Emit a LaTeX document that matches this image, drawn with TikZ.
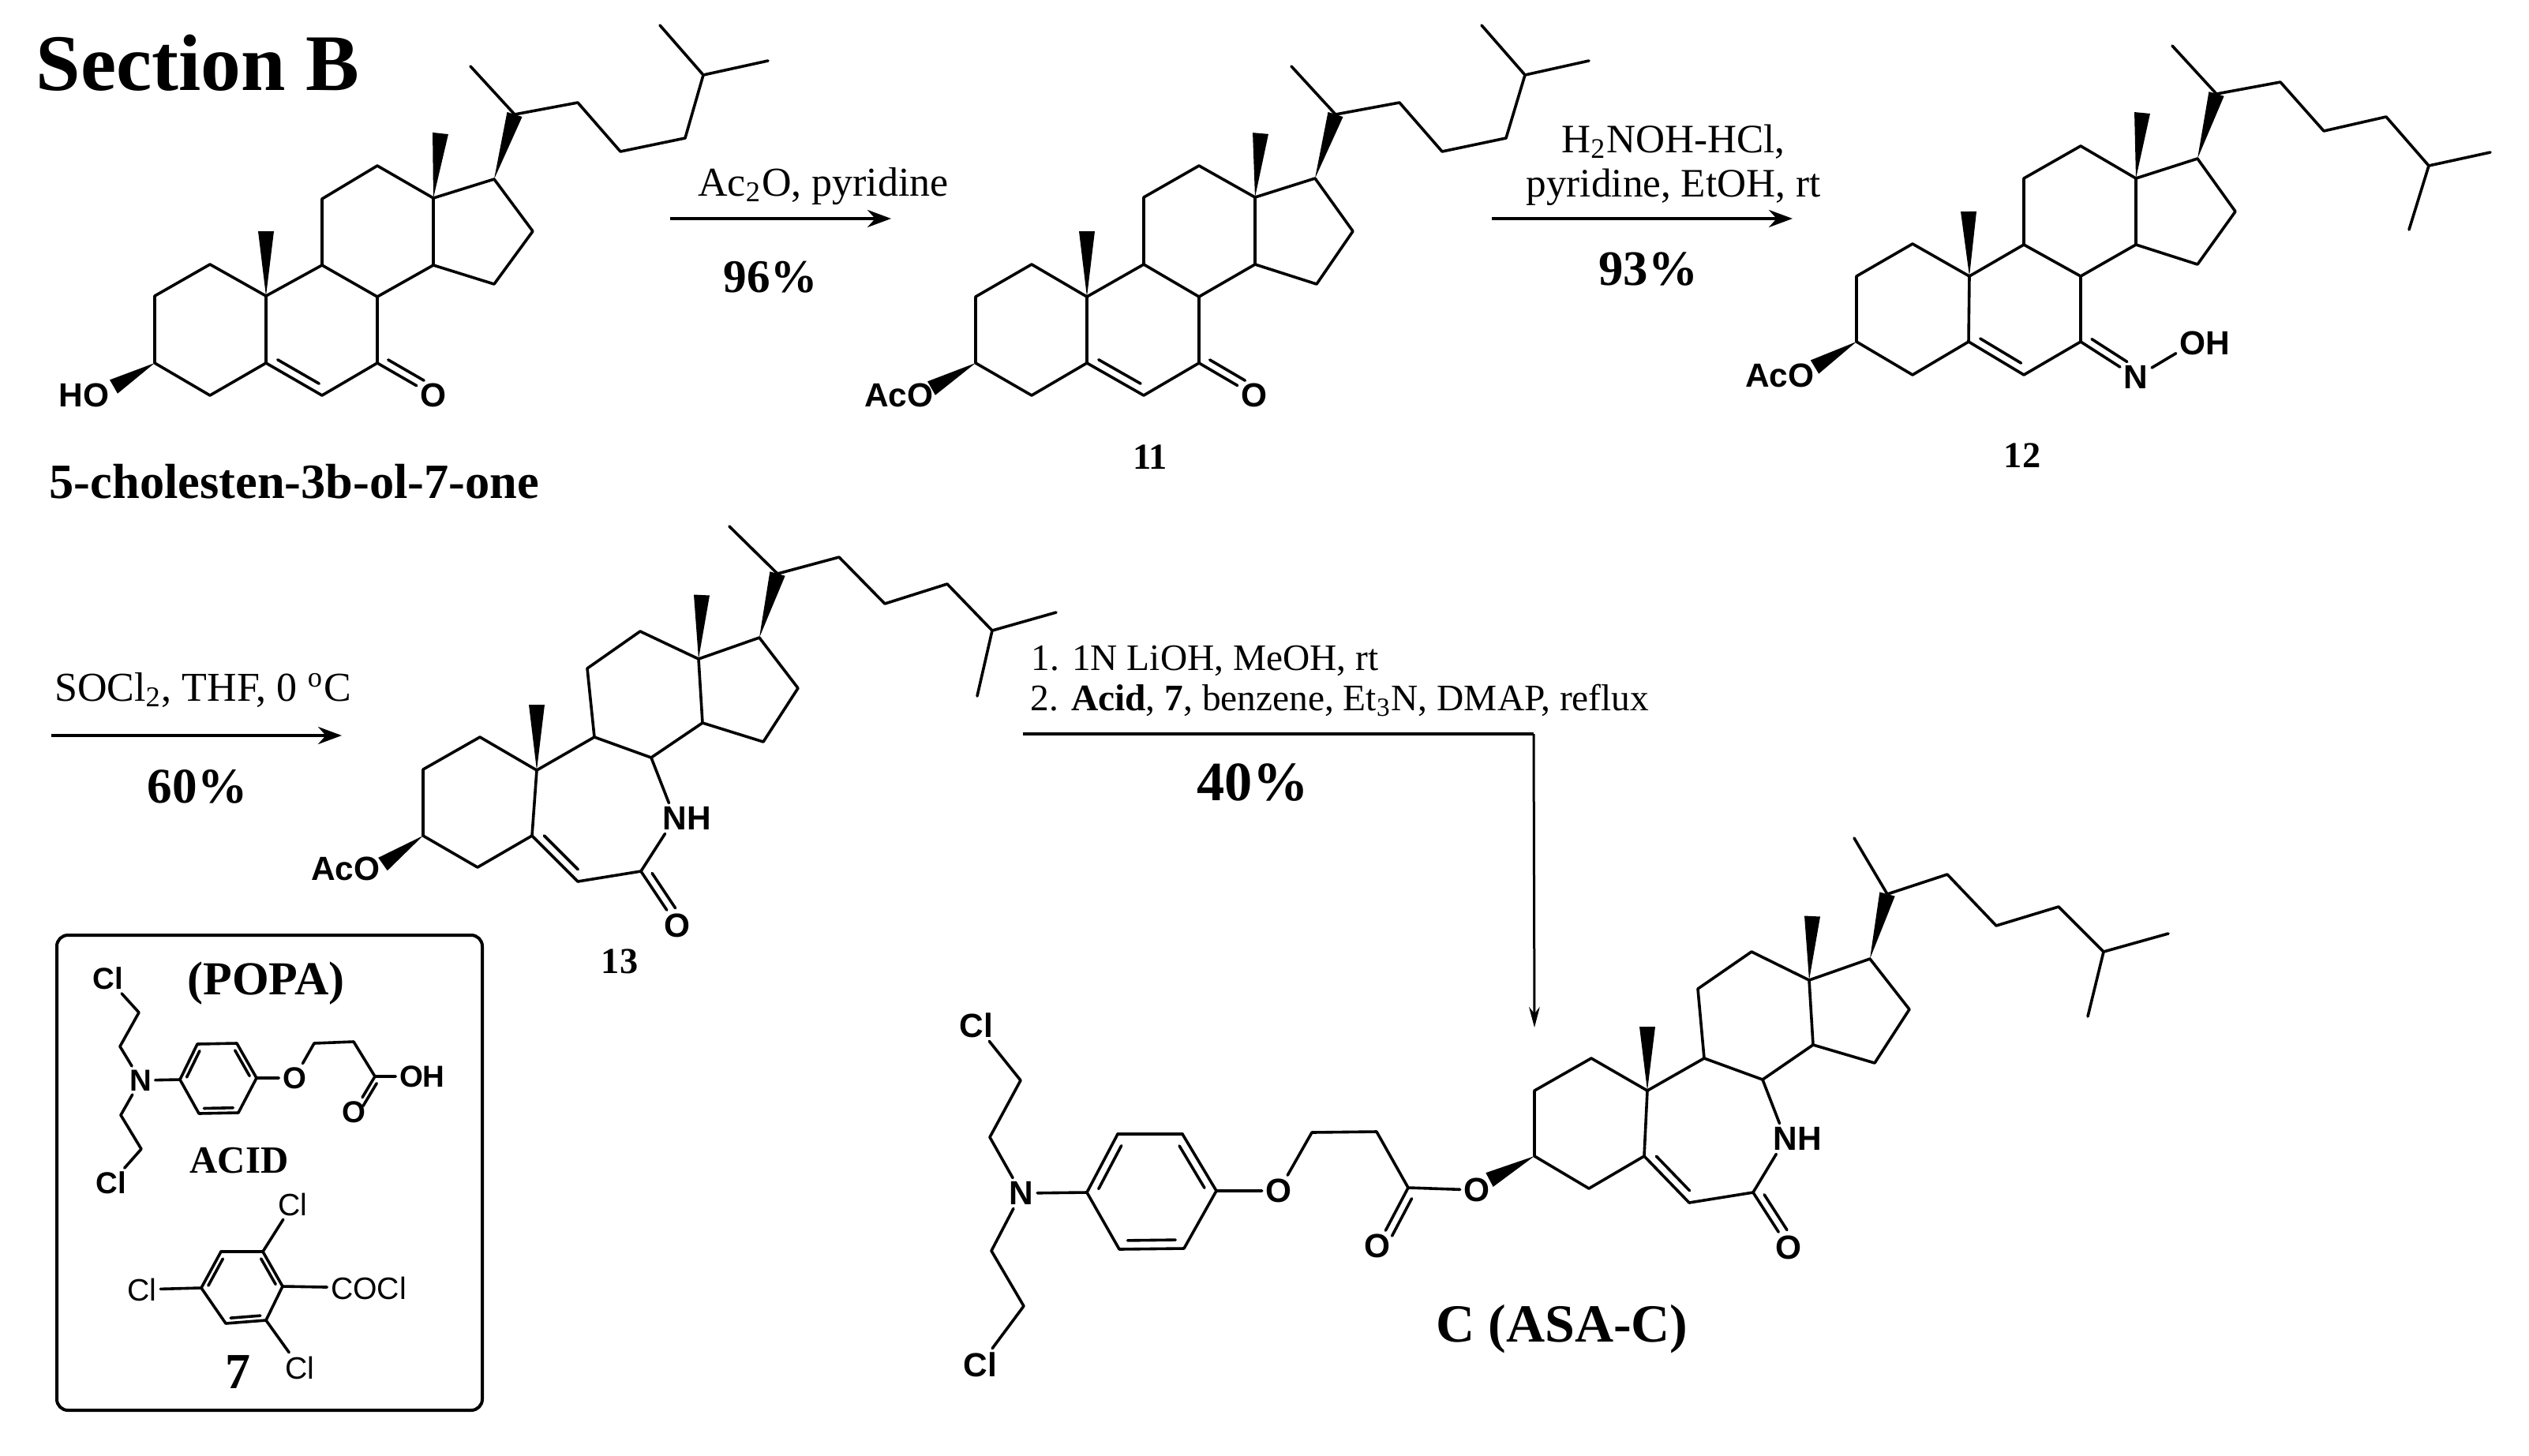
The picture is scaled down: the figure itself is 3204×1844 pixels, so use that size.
\documentclass[tikz,border=0pt]{standalone}
\usepackage{fontspec}
\setmainfont{Liberation Serif}
\setsansfont{Liberation Sans}
\usetikzlibrary{arrows.meta,calc}

\tikzset{
  bond/.style={line width=.9pt,line cap=round,line join=round},
  rxn/.style={line width=1pt,-{Stealth[length=7.5pt,width=5.5pt]}},
  atom/.style={font=\sffamily\bfseries\fontsize{10.6}{12}\selectfont,inner sep=1pt},
  smallatom/.style={font=\sffamily\bfseries\fontsize{9.6}{11}\selectfont,inner sep=1pt},
  plainatom/.style={font=\sffamily\fontsize{9.8}{11}\selectfont,inner sep=1pt},
  reagent/.style={font=\fontsize{13}{15}\selectfont,anchor=base,inner sep=0pt},
  stepline/.style={font=\fontsize{11.85}{14}\selectfont,anchor=base west,inner sep=0pt},
  yield/.style={font=\bfseries\fontsize{#1}{18}\selectfont,anchor=base,inner sep=0pt},
  yield/.default=15,
  tag/.style={font=\bfseries\fontsize{11.6}{14}\selectfont,anchor=base,inner sep=0pt}
}

% narrow end on #1, broad end on #2
\newcommand\wedgebond[2]{\fill ($(#2)!2.5pt!90:(#1)$) -- (#1) -- ($(#2)!2.5pt!-90:(#1)$) -- cycle;}
% inner line lies to the left of #2 -> #3
\newcommand\dbl[3][2.75pt]{\draw[bond] (#2) -- (#3);
  \draw[bond] ($(#2)!.13!(#3)!#1!90:(#3)$) -- ($(#2)!.87!(#3)!#1!90:(#3)$);}
\newcommand\dblo[3][2.6pt]{\draw[bond] (#2) -- (#3);
  \draw[bond] ($(#2)!.12!(#3)!#1!90:(#3)$) -- ($(#2)!.76!(#3)!#1!90:(#3)$);}
% everything the five steroids share
\newcommand\steroid[1]{
  \draw[bond] (#1c5) -- (#1c10) -- (#1c1) -- (#1c2) -- (#1c3) -- (#1c4) -- (#1c5);
  \draw[bond] (#1c10) -- (#1c9) -- (#1c11) -- (#1c12) -- (#1c13) -- (#1c14) -- (#1c8) -- (#1c9);
  \draw[bond] (#1c13) -- (#1c17) -- (#1c16) -- (#1c15) -- (#1c14);
  \draw[bond] (#1c21) -- (#1c20) -- (#1c22) -- (#1c23) -- (#1c24) -- (#1c25) -- (#1c26);
  \draw[bond] (#1c25) -- (#1c27);
  \draw[bond] (#1c6) -- (#1c7);
  \dbl{#1c5}{#1c6}
  \wedgebond{#1c17}{#1c20}
  \wedgebond{#1c13}{#1m18}
  \wedgebond{#1c10}{#1m19}
  \wedgebond{#1c3}{#1w3}
}

\begin{document}
\begin{tikzpicture}[x=.25pt,y=-.25pt]
  \useasboundingbox (0,0) rectangle (3204,1844);

  \node[font=\bfseries\fontsize{25.4}{28}\selectfont,anchor=base west,inner sep=0pt] (title) at (45,114) {Section B};

  % cholestenone
  \foreach \n/\x/\y in {c1/266/335,c2/196/375,c3/196/460,c4/266/501,c5/337/460,c6/408/501,c7/478/460,c8/478/376,
      c9/408/336,c10/337/375,c11/408/252,c12/478/210,c13/549/251,c14/549/336,c15/626/360,c16/675/293,c17/626/227,
      c20/652/145,c21/596/84,c22/732/130,c23/786/192,c24/868/175,c25/891/95,c26/836/32,c27/973/77,
      m18/558/169,m19/337/293,w3/144/490}
    \coordinate (a\n) at (\x,\y);
  \steroid{a}
  \draw[bond] (ac7) -- (ac8);
  \node[atom] (ao3) at (122,501) {\llap{H}O};
  \node[atom] (ao7) at (549,501) {O};
  \dblo{ac7}{ao7}
  \node[font=\bfseries\fontsize{15.6}{18}\selectfont,anchor=base,inner sep=0pt] (aname) at (373,631) {5-cholesten-3b-ol-7-one};

  % 11
  \foreach \n/\x/\y in {c1/1307/335,c2/1236/376,c3/1236/460,c4/1307/501,c5/1377/460,c6/1449/501,c7/1519/460,c8/1519/376,
      c9/1449/335,c10/1377/376,c11/1449/250,c12/1519/210,c13/1590/250,c14/1590/335,c15/1668/360,c16/1714/293,c17/1666/226,
      c20/1692/145,c21/1636/84,c22/1773/130,c23/1827/192,c24/1908/175,c25/1932/95,c26/1877/32,c27/2013/77,
      m18/1597/169,m19/1377/293,w3/1180/492}
    \coordinate (b\n) at (\x,\y);
  \steroid{b}
  \draw[bond] (bc7) -- (bc8);
  \node[atom] (bo3) at (1166,501) {\llap{Ac}O};
  \node[atom] (bo7) at (1589,501) {O};
  \dblo{bc7}{bo7}
  \node[tag] (bname) at (1457,594) {11};

  % 12
  \foreach \n/\x/\y in {c1/2423/309,c2/2352/350,c3/2352/433,c4/2423/475,c5/2494/433,c6/2564/475,c7/2636/433,c8/2636/350,
      c9/2564/310,c10/2495/350,c11/2564/226,c12/2636/185,c13/2706/226,c14/2706/310,c15/2784/335,c16/2832/268,c17/2784/201,
      c20/2808/119,c21/2752/58,c22/2889/104,c23/2944/166,c24/3023/148,c25/3077/210,c26/3052/291,c27/3155/193,
      m18/2714/143,m19/2494/268,w3/2299/465}
    \coordinate (c\n) at (\x,\y);
  \steroid{c}
  \draw[bond] (cc7) -- (cc8);
  \node[atom] (co3) at (2282,476) {\llap{Ac}O};
  \node[atom] (cn7) at (2706,478) {N};
  \node[atom] (coh) at (2778,435) {O\rlap{H}};
  \dblo{cc7}{cn7}
  \draw[bond] (cn7) -- (coh);
  \node[tag] (cname) at (2562,592) {12};

  % 13
  \foreach \n/\x/\y in {c1/608/934,c2/536/975,c3/536/1059,c4/605/1099,c5/674/1059,c6/732/1117,c7/812/1104,c8/825/960,
      c9/753/934,c10/680/976,c11/744/847,c12/811/800,c13/885/835,c14/890/916,c15/967/940,c16/1011/872,c17/962/808,
      c20/985/727,c21/924/667,c22/1063/706,c23/1121/765,c24/1200/740,c25/1257/799,c26/1238/882,c27/1338/776,
      m18/889/754,m19/680/893,w3/485/1095}
    \coordinate (d\n) at (\x,\y);
  \steroid{d}
  \node[atom] (do3) at (465,1101) {\llap{Ac}O};
  \node[atom] (dnh) at (855,1037) {N\rlap{H}};
  \node[atom] (do7) at (858,1173) {O};
  \draw[bond] (dc8) -- (dnh) -- (dc7);
  \dblo{dc7}{do7}
  \node[tag] (dname) at (785,1233) {13};

  % ASA-C, steroid part
  \foreach \n/\x/\y in {c1/2016/1341,c2/1944/1382,c3/1944/1465,c4/2013/1506,c5/2083/1465,c6/2140/1524,c7/2221/1511,c8/2233/1368,
      c9/2159/1341,c10/2087/1382,c11/2151/1253,c12/2219/1206,c13/2292/1242,c14/2297/1324,c15/2375/1347,c16/2419/1279,c17/2369/1215,
      c20/2391/1133,c21/2349/1062,c22/2467/1108,c23/2529/1173,c24/2608/1149,c25/2665/1206,c26/2645/1288,c27/2747/1183,
      m18/2296/1161,m19/2087/1301,w3/1887/1495}
    \coordinate (e\n) at (\x,\y);
  \steroid{e}
  \node[atom] (eo3) at (1871,1508) {O};
  \node[atom] (enh) at (2262,1443) {N\rlap{H}};
  \node[atom] (eo7) at (2266,1581) {O};
  \draw[bond] (ec8) -- (enh) -- (ec7);
  \dblo{ec7}{eo7}

  % ASA-C, mustard part
  \foreach \n/\x/\y in {r1/1377/1511,r2/1416/1437,r3/1498/1437,r4/1541/1509,r5/1500/1582,r6/1418/1583,
      k1/1784/1505,k2/1744/1434,k3/1662/1435,u1/1254/1441,u2/1293/1369,v1/1256/1585,v2/1297/1655}
    \coordinate (e\n) at (\x,\y);
  \node[atom] (en) at (1294,1512) {N};
  \node[atom] (eoa) at (1620,1509) {O};
  \node[atom] (eok) at (1745,1579) {O};
  \node[atom] (ecla) at (1237,1299) {Cl};
  \node[atom] (eclb) at (1242,1729) {Cl};
  \draw[bond] (er1) -- (en) -- (eu1) -- (eu2) -- (ecla);
  \draw[bond] (en) -- (ev1) -- (ev2) -- (eclb);
  \dbl{er2}{er1} \dbl{er6}{er5} \dbl{er4}{er3}
  \draw[bond] (er1) -- (er6);
  \draw[bond] (er5) -- (er4);
  \draw[bond] (er3) -- (er2);
  \draw[bond] (er4) -- (eoa) -- (ek3) -- (ek2) -- (ek1) -- (eo3);
  \dblo{ek1}{eok}
  \node[font=\bfseries\fontsize{17}{20}\selectfont,anchor=base,inner sep=0pt] (ename) at (1979,1700) {C (ASA-C)};

  % reaction arrows
  \foreach \n/\x/\y in {s1/849/277,t1/1129/277,s2/1890/277,t2/2271/277,s3/65/932,t3/433/932,
      s4/1296/930,k4/1943/930,t4/1944/1302}
    \coordinate (\n) at (\x,\y);
  \draw[rxn] (s1) -- (t1);
  \draw[rxn] (s2) -- (t2);
  \draw[rxn] (s3) -- (t3);
  \draw[line width=1.1pt] (s4) -- (k4);
  \draw[line width=.75pt,-{Stealth[length=6.5pt,width=3.4pt]}] (k4) -- (t4);

  \node[reagent] (r1a) at (1043,248) {Ac\textsubscript{2}O, pyridine};
  \node[yield=14.8] (y1) at (976,370) {96\%};
  \node[reagent,font=\fontsize{12.8}{15}\selectfont] (r2a) at (2120,193) {H\textsubscript{2}NOH-HCl,};
  \node[reagent,font=\fontsize{12.8}{15}\selectfont] (r2b) at (2120,249) {pyridine, EtOH, rt};
  \node[yield=15.7] (y2) at (2088,361) {93\%};
  \node[reagent] (r3a) at (257,888) {SOCl\textsubscript{2}, THF, 0 \textsuperscript{o}C};
  \node[yield=15.8] (y3) at (250,1017) {60\%};
  \node[stepline] (r4a) at (1306,849) {1. 1N LiOH, MeOH, rt};
  \node[stepline] (r4b) at (1305,900) {2. \textbf{Acid}, \textbf{7}, benzene, Et\textsubscript{3}N, DMAP, reflux};
  \node[yield=17.6] (y4) at (1587,1014) {40\%};

  % inset
  \coordinate (boxa) at (72,1185);
  \coordinate (boxb) at (611,1787);
  \draw[line width=1pt,rounded corners=3.5pt] (boxa) rectangle (boxb);
  \node[font=\bfseries\fontsize{15}{17}\selectfont,inner sep=0pt] (popa) at (337,1246) {(POPA)};
  \foreach \n/\x/\y in {p1/228/1368,p2/250/1323,p3/300/1322,p4/325/1366,p5/302/1410,p6/252/1411,
      u1/176/1283,u2/152/1326,v1/153/1413,v2/179/1456,k1/398/1322,k2/448/1320,k3/475/1364,
      q1/255/1632,q2/280/1586,q3/333/1586,q4/358/1630,q5/337/1673,q6/286/1677}
    \coordinate (\n) at (\x,\y);
  \node[smallatom] (pn) at (178,1369) {N};
  \node[smallatom] (pcla) at (137,1240) {Cl};
  \node[smallatom] (pclb) at (141,1499) {Cl};
  \node[smallatom] (po) at (373,1366) {O};
  \node[smallatom] (poh) at (521,1364) {O\rlap{H}};
  \node[smallatom] (pok) at (448,1409) {O};
  \draw[bond] (pcla) -- (u1) -- (u2) -- (pn) -- (v1) -- (v2) -- (pclb);
  \draw[bond] (pn) -- (p1);
  \dbl[1.6pt]{p2}{p1} \dbl[1.6pt]{p6}{p5} \dbl[1.6pt]{p4}{p3}
  \draw[bond] (p1) -- (p6);
  \draw[bond] (p5) -- (p4);
  \draw[bond] (p3) -- (p2);
  \draw[bond] (p4) -- (po) -- (k1) -- (k2) -- (k3) -- (poh);
  \dblo[1.6pt]{k3}{pok}
  \node[font=\bfseries\fontsize{12.2}{15}\selectfont,inner sep=0pt] (acid) at (303,1471) {ACID};

  \node[plainatom] (qcla) at (371,1526) {Cl};
  \node[plainatom] (qclb) at (180,1634) {Cl};
  \node[plainatom] (qclc) at (380,1733) {Cl};
  \node[plainatom] (qcoc) at (467,1632) {COCl};
  \dbl[1.6pt]{q2}{q1} \dbl[1.6pt]{q6}{q5} \dbl[1.6pt]{q4}{q3}
  \draw[bond] (q1) -- (q6);
  \draw[bond] (q5) -- (q4);
  \draw[bond] (q3) -- (q2);
  \draw[bond] (q3) -- (qcla);
  \draw[bond] (q1) -- (qclb);
  \draw[bond] (q5) -- (qclc);
  \draw[bond] (q4) -- (qcoc);
  \node[font=\bfseries\fontsize{16}{18}\selectfont,inner sep=0pt] (seven) at (301,1739) {7};
\end{tikzpicture}
\end{document}
